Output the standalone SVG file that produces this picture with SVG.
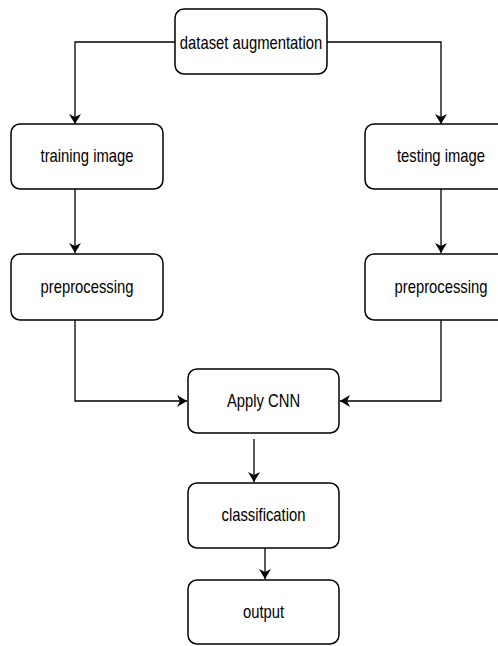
<svg xmlns="http://www.w3.org/2000/svg" width="498" height="646" viewBox="0 0 498 646">
  <style>
    .box { fill: #ffffff; stroke: #000000; stroke-width: 1.5; }
    .lbl { font-family: "Liberation Sans", Arial, sans-serif; font-size: 18.5px; fill: #000000; text-anchor: middle; dominant-baseline: central; }
    .edge { fill: none; stroke: #000000; stroke-width: 1.3; marker-end: url(#arrow); }
  </style>
  <defs>
    <marker id="arrow" viewBox="0 0 10 12" refX="10" refY="6" markerWidth="10" markerHeight="12" markerUnits="userSpaceOnUse" orient="auto">
      <path d="M0,0 L10,6 L0,12 L3,6 Z" fill="#000000"/>
    </marker>
  </defs>
  <rect width="498" height="646" fill="#ffffff"/>

  <g id="connectors">
    <path class="edge" d="M175,42 H75 V124"/>
    <path class="edge" d="M327,42 H441 V124"/>
    <path class="edge" d="M75,189 V253"/>
    <path class="edge" d="M441,189 V253"/>
    <path class="edge" d="M75,320 V401 H187"/>
    <path class="edge" d="M441,320 V401 H340"/>
    <path class="edge" d="M254,439 V482"/>
    <path class="edge" d="M265,548 V579"/>
  </g>

  <g id="dataset-augmentation">
    <rect class="box" x="175" y="9" width="152" height="65" rx="9"/>
    <text class="lbl" transform="translate(251,43) scale(0.8,1)">dataset augmentation</text>
  </g>
  <g id="training-image">
    <rect class="box" x="11" y="124" width="152" height="65" rx="9"/>
    <text class="lbl" transform="translate(87,156) scale(0.8,1)">training image</text>
  </g>
  <g id="testing-image">
    <rect class="box" x="365" y="124" width="152" height="65" rx="9"/>
    <text class="lbl" transform="translate(441,156) scale(0.8,1)">testing image</text>
  </g>
  <g id="preprocessing-left">
    <rect class="box" x="11" y="254" width="152" height="66" rx="9"/>
    <text class="lbl" transform="translate(87,287) scale(0.8,1)">preprocessing</text>
  </g>
  <g id="preprocessing-right">
    <rect class="box" x="365" y="254" width="152" height="66" rx="9"/>
    <text class="lbl" transform="translate(441,287) scale(0.8,1)">preprocessing</text>
  </g>
  <g id="apply-cnn">
    <rect class="box" x="188" y="369" width="151" height="64" rx="9"/>
    <text class="lbl" transform="translate(263.5,401) scale(0.8,1)">Apply CNN</text>
  </g>
  <g id="classification">
    <rect class="box" x="188" y="483" width="151" height="65" rx="9"/>
    <text class="lbl" transform="translate(263.5,515) scale(0.8,1)">classification</text>
  </g>
  <g id="output">
    <rect class="box" x="188" y="580" width="151" height="64" rx="9"/>
    <text class="lbl" transform="translate(263.5,612) scale(0.8,1)">output</text>
  </g>
</svg>
